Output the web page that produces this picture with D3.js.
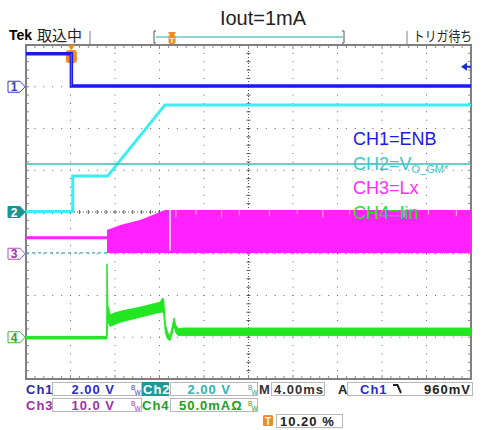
<!DOCTYPE html>
<html lang="ja">
<head>
<meta charset="utf-8">
<style>
  body { margin: 0; background: #fff; }
  svg { display: block; font-family: 'Liberation Sans', Arial, sans-serif; }
  .stat { font-weight: bold; font-size: 13px; letter-spacing: 1px; }
</style>
</head>
<body>
<svg width="482" height="430"></svg>
<script src="https://cdn.jsdelivr.net/npm/d3@7"></script>
<script>
// horizontal: 4 ms/div, trigger position 10.20 %
const msPerDiv = 4, triggerPct = 10.2;

// per channel: units per div, ground marker position (divs from centre), colour
const chScale  = [2, 2, 10, 50];
const chOffset = [3, 0, -1, -3];
const chColor  = ["#1c1ce4", "#38f0f0", "#ff22ff", "#22e622"];

// CH1 = ENB (V)
const ch1T = [-4.08, 0, 0, 35.92];
const ch1V = [1.58, 1.58, 0.04, 0.04];

// CH2 = Vo_GM* (V)
const ch2T = [-4.08, 0.12, 0.12, 3.25, 8.41, 35.92];
const ch2V = [0.02, 0.02, 1.72, 1.72, 5.13, 5.13];

// CH3 = Lx (V), switching envelope
const ch3T  = [-4.08, 3.2, 3.2, 4.4, 6.17, 7.97, 8.41, 35.92];
const ch3Lo = [3.5, 3.5, 0.15, 0.15, 0.15, 0.15, 0.15, 0.15];
const ch3Hi = [4.2, 4.2, 5.7, 6.9, 8.1, 10.0, 10.5, 10.5];
const ch3Gaps = [8.86];
// short dips at the top edge of the switching band (t ms, V)
const ch3DipT = [9.4, 11.2, 13.5, 15.1, 17.8, 20.3, 22.6, 25.0, 27.4, 29.9, 32.1, 34.6];
const ch3DipV = [8.8, 9.4, 8.6, 9.2, 9.0, 9.5, 8.7, 9.3, 9.1, 8.8, 9.4, 9.0];

// CH4 = Iin (mA), envelope
const ch4T  = [-4.08, 3.17, 3.2, 3.28, 3.47, 4.37, 6.17, 7.97, 8.2, 8.3, 8.45, 8.65, 8.86, 9.05, 9.22, 9.4, 9.6, 10.0, 35.92];
const ch4Lo = [-2, -2, -2, 20, 13, 18, 24, 30, 30, 28, 5, -2, -4, 4, 14, 5, 2, 2, 2];
const ch4Hi = [1, 1, 88, 38, 27, 31, 36, 42, 47, 45, 15, 6, 1, 12, 23, 14, 10, 11, 11];

// cursors (in CH2 volts) and trigger level (CH1 volts)
const cursorSolid = 2.30, cursorDashed = -1.96;
const trigLevel = 0.96;

const labels = ["CH1=ENB", "CH2=V", "CH3=Lx", "CH4=Iin"];
const labelColor = ["#1a1ae8", "#40c8c8", "#ff2cff", "#22e022"];

const svg = d3.select("svg");
const L = 26, R = 471, T = 45, B = 379;

const tStart = -triggerPct / 100 * 10 * msPerDiv;
const x = d3.scaleLinear().domain([tStart, tStart + 10 * msPerDiv]).range([L, R]);
const yDiv = d3.scaleLinear().domain([-4, 4]).range([B, T]);
const xDiv = d3.scaleLinear().domain([0, 10]).range([L, R]);
const yCh = (c, v) => yDiv(chOffset[c] + v / chScale[c]);

svg.append("rect").attr("width", 482).attr("height", 430).attr("fill", "#fff");

// title
svg.append("text").attr("x", 263).attr("y", 25).attr("text-anchor", "middle")
  .attr("font-size", 20).attr("fill", "#222").text("Iout=1mA");

// header
svg.append("text").attr("x", 9).attr("y", 40).attr("font-size", 14).attr("font-weight", "bold").text("Tek");
svg.append("text").attr("x", 37).attr("y", 41).attr("font-size", 15)
  .attr("font-family", "'Noto Sans CJK JP'").attr("fill", "#222").text("取込中");
svg.append("text").attr("x", 413).attr("y", 41).attr("font-size", 14)
  .attr("font-family", "'Noto Sans CJK JP'").attr("fill", "#222")
  .attr("textLength", 59).attr("lengthAdjust", "spacingAndGlyphs").text("トリガ待ち");
[90, 407].forEach(px => svg.append("line").attr("x1", px).attr("x2", px).attr("y1", 31).attr("y2", 44)
  .attr("stroke", "#c0c0c0").attr("stroke-width", 2));
svg.append("path").attr("d", "M156,31 H154 V43 H156 M342,31 H344 V43 H342")
  .attr("fill", "none").attr("stroke", "#555").attr("stroke-width", 1);
svg.append("line").attr("x1", 156).attr("x2", 343).attr("y1", 37).attr("y2", 37)
  .attr("stroke", "#90d4d4").attr("stroke-width", 2);
svg.append("path").attr("d", "M168,32 H176 L174,35 H170 Z").attr("fill", "#f08a24");
svg.append("rect").attr("x", 168.5).attr("y", 35).attr("width", 7).attr("height", 9).attr("rx", 2).attr("fill", "#f08a24");
svg.append("text").attr("x", 172).attr("y", 42.5).attr("text-anchor", "middle").attr("font-size", 8)
  .attr("font-weight", "bold").attr("fill", "#fff").text("T");

// grid
const g = svg.append("g");
const dot = (px, py) => g.append("rect").attr("x", px - 0.5).attr("y", py - 0.5).attr("width", 1).attr("height", 1).attr("fill", "#666");
for (let i = 1; i < 10; i++) {
  if (i === 5) continue;
  for (let k = 1; k < 40; k++) dot(xDiv(i), yDiv(-4 + k / 5));
}
for (let j = -3; j <= 3; j++) {
  if (j === 0) continue;
  for (let k = 1; k < 50; k++) dot(xDiv(k / 5), yDiv(j));
}
// centre lines
g.append("line").attr("x1", xDiv(5)).attr("x2", xDiv(5)).attr("y1", T).attr("y2", B)
  .attr("stroke", "#555").attr("stroke-dasharray", "1,2");
g.append("line").attr("x1", L).attr("x2", R).attr("y1", yDiv(0)).attr("y2", yDiv(0))
  .attr("stroke", "#555").attr("stroke-dasharray", "1,2");
for (let k = 1; k < 40; k++) {
  const py = yDiv(-4 + k / 5);
  g.append("line").attr("x1", xDiv(5) - 2).attr("x2", xDiv(5) + 2).attr("y1", py).attr("y2", py).attr("stroke", "#555");
  g.append("line").attr("x1", L).attr("x2", L + 3).attr("y1", py).attr("y2", py).attr("stroke", "#888");
  g.append("line").attr("x1", R - 3).attr("x2", R).attr("y1", py).attr("y2", py).attr("stroke", "#888");
}
for (let k = 1; k < 50; k++) {
  const px = xDiv(k / 5);
  g.append("line").attr("x1", px).attr("x2", px).attr("y1", yDiv(0) - 2).attr("y2", yDiv(0) + 2).attr("stroke", "#555");
  g.append("line").attr("x1", px).attr("x2", px).attr("y1", T).attr("y2", T + (k % 5 ? 3 : 4)).attr("stroke", "#888");
  g.append("line").attr("x1", px).attr("x2", px).attr("y1", B - (k % 5 ? 3 : 4)).attr("y2", B).attr("stroke", "#888");
}
g.append("rect").attr("x", L).attr("y", T).attr("width", R - L).attr("height", B - T)
  .attr("fill", "none").attr("stroke", "#808080").attr("stroke-width", 2);

// dashed cursor
svg.append("line").attr("x1", L).attr("x2", R).attr("y1", yCh(1, cursorDashed)).attr("y2", yCh(1, cursorDashed))
  .attr("stroke", "#4aa4a4").attr("stroke-width", 1.2).attr("stroke-dasharray", "3,3");

const band = (c, t, lo, hi) => d3.area()
  .x((d, i) => x(t[i])).y0((d, i) => yCh(c, lo[i])).y1((d, i) => yCh(c, hi[i]))(t);
const trace = (c, t, v) => d3.line().x((d, i) => x(t[i])).y((d, i) => yCh(c, v[i]))(t);

// CH3
svg.append("path").attr("d", band(2, ch3T, ch3Lo, ch3Hi)).attr("fill", chColor[2]);
ch3Gaps.forEach(t => {
  const i = d3.bisectLeft(ch3T, t);
  svg.append("line").attr("x1", x(t)).attr("x2", x(t))
    .attr("y1", yCh(2, ch3Hi[i])).attr("y2", yCh(2, 0.8)).attr("stroke", "#fff").attr("stroke-width", 1.5);
});
ch3DipT.forEach((t, i) => {
  svg.append("line").attr("x1", x(t)).attr("x2", x(t))
    .attr("y1", yCh(2, 10.5)).attr("y2", yCh(2, ch3DipV[i])).attr("stroke", "#ffb8ff").attr("stroke-width", 1);
});

// CH4
svg.append("path").attr("d", band(3, ch4T, ch4Lo, ch4Hi)).attr("fill", chColor[3])
  .attr("stroke", chColor[3]).attr("stroke-width", 1);

// CH2
svg.append("path").attr("d", trace(1, ch2T, ch2V)).attr("fill", "none")
  .attr("stroke", chColor[1]).attr("stroke-width", 3);

// trigger marker on graticule
svg.append("path").attr("d", `M${x(0) - 4},${T} H${x(0) + 4} L${x(0)},${T + 5} Z`).attr("fill", "#f08a24");
svg.append("rect").attr("x", x(0) - 5.5).attr("y", T + 5).attr("width", 11).attr("height", 13).attr("rx", 3).attr("fill", "#f08a24");

// CH1
svg.append("path").attr("d", trace(0, ch1T, ch1V)).attr("fill", "none")
  .attr("stroke", chColor[0]).attr("stroke-width", 3.5);
svg.append("line").attr("x1", x(0)).attr("x2", x(0)).attr("y1", yCh(0, ch1V[0])).attr("y2", yCh(0, ch1V[3]))
  .attr("stroke", "#5060f0").attr("stroke-width", 1.2);

// solid cursor
svg.append("line").attr("x1", L).attr("x2", R).attr("y1", yCh(1, cursorSolid)).attr("y2", yCh(1, cursorSolid))
  .attr("stroke", "#3cbaba").attr("stroke-width", 1.5);

// trigger level arrow
const ty = yCh(0, trigLevel);
svg.append("path").attr("d", `M${R - 10},${ty} L${R - 4},${ty - 4} V${ty + 4} Z M${R - 5},${ty - 1} H${R} V${ty + 1} H${R - 5} Z`)
  .attr("fill", "#1c2ad0");

// channel markers
const mk = [
  { fill: "#fff", stroke: "#3a3ad0", text: "#3a3ad0" },
  { fill: "#1a9494", stroke: "#1a9494", text: "#fff" },
  { fill: "#fff", stroke: "#b050b8", text: "#a030a8" },
  { fill: "#fff", stroke: "#40b040", text: "#30a030" }
];
mk.forEach((m, c) => {
  const my = yCh(c, 0);
  svg.append("path").attr("d", `M8,${my - 5.5} H20 L25,${my} L20,${my + 5.5} H8 Z`)
    .attr("fill", m.fill).attr("stroke", m.stroke).attr("stroke-width", 1);
  svg.append("text").attr("x", 14).attr("y", my + 4.5).attr("text-anchor", "middle")
    .attr("font-size", 12).attr("font-weight", "bold").attr("fill", m.text).text(c + 1);
});

// legend labels
labels.forEach((s, i) => {
  const t = svg.append("text").attr("x", 353).attr("y", 145 + i * 24.5)
    .attr("font-size", 18).attr("fill", labelColor[i]).text(s);
  if (i === 1) t.append("tspan").attr("font-size", 11).attr("dy", 3).text("O_GM*");
});

// status bar
const box = (bx, by, w) => svg.append("rect").attr("x", bx + 0.5).attr("y", by + 0.5).attr("width", w).attr("height", 13)
  .attr("fill", "#fff").attr("stroke", "#b8b8b8");
const txt = (tx, ty2, s, col, anchor) => svg.append("text").attr("class", "stat").attr("x", tx).attr("y", ty2)
  .attr("text-anchor", anchor || "start").attr("fill", col).text(s);
const bw = (bx, by, col) => {
  svg.append("text").attr("x", bx).attr("y", by - 4).attr("font-size", 6.5).attr("fill", col).text("B");
  svg.append("text").attr("x", bx + 3.5).attr("y", by + 0.5).attr("font-size", 6.5).attr("fill", col).text("W");
};

box(52, 382, 89); box(170, 382, 87); box(271, 382, 53); box(347, 382, 125);
box(52, 398, 89); box(170, 398, 87); box(276, 414, 66);
svg.append("rect").attr("x", 142).attr("y", 382).attr("width", 27).attr("height", 14).attr("fill", "#1a9a9a");

txt(26, 394, "Ch1", "#2a2aa8");
txt(115, 394, "2.00 V", "#2a2ad0", "end");
bw(131, 394, "#3a3ad0");
txt(143, 394, "Ch2", "#fff");
txt(231, 394, "2.00 V", "#30b4b4", "end");
bw(248, 394, "#30a0a0");
txt(259, 394, "M", "#333");
txt(274, 394, "4.00ms", "#333");
txt(338, 394, "A", "#222");
txt(360, 394, "Ch1", "#2a2ad0");
svg.append("path").attr("d", "M393,385 H397.5 L401,393").attr("fill", "none").attr("stroke", "#222").attr("stroke-width", 2);
txt(471, 394, "960mV", "#222", "end");

txt(26, 410, "Ch3", "#a030a8");
txt(115, 410, "10.0 V", "#a030b0", "end");
bw(131, 410, "#a030b0");
txt(142, 410, "Ch4", "#20a020");
txt(179, 410, "50.0mAΩ", "#20a020");
bw(248, 410, "#20a020");

svg.append("rect").attr("x", 263).attr("y", 415).attr("width", 10).attr("height", 11).attr("rx", 1.5).attr("fill", "#f08a24");
svg.append("text").attr("x", 268).attr("y", 424.5).attr("text-anchor", "middle").attr("font-size", 10)
  .attr("font-weight", "bold").attr("fill", "#fff").text("T");
txt(280, 426, "10.20 %", "#222");
</script>
</body>
</html>
